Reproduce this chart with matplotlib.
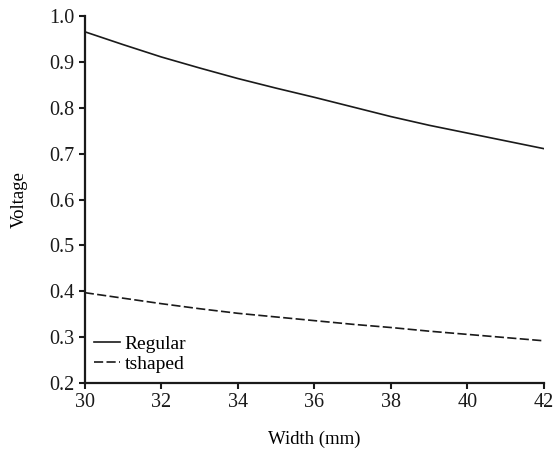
import numpy as np
import matplotlib.pyplot as plt

plt.rcParams['font.family'] = ['Liberation Serif', 'DejaVu Serif']

# --- data ---
width_mm = [30, 31, 32, 33, 34, 35, 36, 37, 38, 39, 40, 41, 42]
regular = [0.966, 0.938, 0.911, 0.887, 0.864, 0.843, 0.823, 0.802, 0.781, 0.762, 0.745, 0.728, 0.711]
tshaped = [0.397, 0.385, 0.373, 0.362, 0.352, 0.344, 0.336, 0.328, 0.321, 0.313, 0.306, 0.299, 0.292]
x_ticks = [30, 32, 34, 36, 38, 40, 42]
y_ticks = [0.2, 0.3, 0.4, 0.5, 0.6, 0.7, 0.8, 0.9, 1.0]

fig = plt.figure(figsize=(5.54, 4.49), dpi=100)
ax = fig.add_axes([0.153, 0.147, 0.829, 0.817])

ax.plot(width_mm, regular, color='#1a1a1a', lw=1.2, ls='-', label='Regular')
ax.plot(width_mm, tshaped, color='#1a1a1a', lw=1.2, ls=(0, (5.5, 2)), label='tshaped')

ax.set_xlim(30, 42)
ax.set_ylim(0.2, 1.0)
ax.set_xticks(x_ticks)
ax.set_yticks(y_ticks)
ax.set_yticklabels([f"{v:.1f}" for v in y_ticks])

for s in ['top', 'right']:
    ax.spines[s].set_visible(False)
for s in ['left', 'bottom']:
    ax.spines[s].set_linewidth(1.6)
    ax.spines[s].set_color('#1a1a1a')

ax.tick_params(direction='out', length=4.5, width=1.5, labelsize=14.5, colors='#1a1a1a', pad=3)

ax.set_xlabel('Width (mm)', fontsize=13.5, labelpad=13)
ax.set_ylabel('Voltage', fontsize=13.5, labelpad=15)

ax.legend(loc='lower left', frameon=False, fontsize=14, handlelength=1.3,
          handletextpad=0.25, labelspacing=0.15, borderaxespad=0.3, borderpad=0.2)

fig.savefig('out.png', dpi=100)
